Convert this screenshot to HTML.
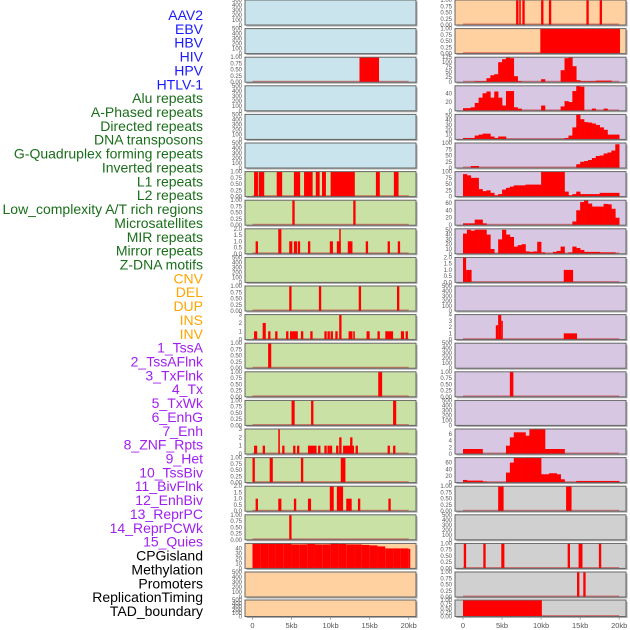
<!DOCTYPE html>
<html><head><meta charset="utf-8"><style>
html,body{margin:0;padding:0;background:#fff;}
svg{display:block;font-family:"Liberation Sans",sans-serif;}
</style></head><body>
<svg id="chart" width="630" height="630" viewBox="0 0 630 630" xmlns="http://www.w3.org/2000/svg"></svg>
<script>
const labels=["AAV2","EBV","HBV","HIV","HPV","HTLV-1","Alu repeats","A-Phased repeats","Directed repeats","DNA transposons","G-Quadruplex forming repeats","Inverted repeats","L1 repeats","L2 repeats","Low_complexity A/T rich regions","Microsatellites","MIR repeats","Mirror repeats","Z-DNA motifs","CNV","DEL","DUP","INS","INV","1_TssA","2_TssAFlnk","3_TxFlnk","4_Tx","5_TxWk","6_EnhG","7_Enh","8_ZNF_Rpts","9_Het","10_TssBiv","11_BivFlnk","12_EnhBiv","13_ReprPC","14_ReprPCWk","15_Quies","CPGisland","Methylation","Promoters","ReplicationTiming","TAD_boundary"];
const labelGroups=[6,13,5,15,5];
const groupColors=["#1a1aff","#1a6e1a","#ffa500","#a020f0","#000000"];
const xTicks=[0,5,10,15,20];
const xTickLabels=["0","5kb","10kb","15kb","20kb"];
// left column: backgrounds, tick types, segment data [start kb, end kb, value]
const leftBg=["b","b","b","b","b","b","g","g","g","g","g","g","g","g","g","g","g","g","g","o","o","o"];
const leftTicks=["e","e","p","e","e","e","p","p","t2","e","p","t3","p","p","p","t3","p","t2","p","c40","e","e"];
const leftSeg=[
[],[],[[13.7,16.2,1]],[],[],[],
[[0.2,0.7,1],[0.8,1.5,1],[3.1,3.8,1],[5.3,6.1,1],[6.6,7.7,1],[8.1,8.6,1],[8.9,9.4,1],[10.0,13.1,1],[15.8,16.3,1],[18.1,18.7,1]],
[[5.1,5.4,1],[12.9,13.2,1]],
[[0.4,0.7,1],[3.3,3.7,2],[4.7,5.1,1],[5.3,5.7,1],[5.8,6.1,1],[7.1,7.4,1],[9.9,10.3,1],[10.8,11.3,1],[11.1,11.3,2],[12.2,12.8,1],[14.5,14.8,1],[17.3,17.6,1],[18.6,18.9,1]],
[],
[[4.7,5.0,1],[8.5,8.8,1],[13.6,13.9,1],[18.5,18.8,1]],
[[0.2,0.6,1],[1.3,1.7,2],[2.0,2.3,1],[2.9,3.2,1],[4.3,4.6,1],[4.8,5.8,1],[6.2,6.5,1],[7.4,7.7,1],[9.2,9.5,1],[9.6,9.9,1],[10.0,10.3,1],[10.6,10.9,1],[11.1,11.4,3],[12.3,12.8,1],[12.9,13.1,1],[14.6,15.0,1],[16.0,16.3,1],[17.0,18.0,1],[19.0,19.4,1],[19.6,19.9,1]],
[[2.0,2.4,1]],
[[16.1,16.6,1]],
[[5.0,5.4,1],[7.5,7.8,1],[18.0,18.4,1]],
[[0.2,0.6,1],[1.3,1.6,1],[3.3,3.5,3],[3.8,4.1,1],[5.2,5.5,1],[5.7,6.0,1],[7.1,8.2,1],[8.4,8.7,1],[9.2,9.5,1],[9.6,9.9,1],[9.9,10.2,1],[10.7,11.0,1],[11.1,11.4,2],[11.6,13.0,1],[12.5,12.8,2],[13.2,13.5,1],[17.3,17.6,1],[18.0,18.3,1]],
[[0.0,0.3,1],[2.2,2.6,1],[6.2,6.5,1],[11.3,11.9,1]],
[[0.4,0.7,1],[3.3,3.7,1],[5.3,5.6,1],[7.1,7.5,1],[9.9,10.4,2],[10.8,11.6,2],[12.0,12.7,1],[13.5,13.8,1],[17.4,17.7,1]],
[[4.7,5.0,1]],
[[0,1,50],[1,2,50],[2,3,50],[3,4,50],[4,5,50],[5,6,48],[6,7,48],[7,8,49],[8,9,48],[9,10,48],[10,11,50],[11,12,49],[12,13,48],[13,14,48],[14,15,47],[15,16,46],[16,17,44],[17,18,40],[18,19,40],[19,20,40],[20,20.2,39]],
[],[]
];
// right column: backgrounds, tick types, segments, histograms (0.5kb bins from 0)
const rightBg=["o","o","u","u","u","u","u","u","u","u","u","u","u","u","u","u","u","r","r","r","r","r"];
const rightTicks=["p","p","h125","h57","h50","h100","h100","h67","h50","t2","e","t4","e","p","e","h7","h75","p","e","p","p","p"];
const rightSeg=[
[[6.8,7.1,1],[7.2,7.4,1],[7.6,7.9,1],[10.0,10.3,1],[11.0,11.3,1],[15.8,16.1,1],[17.5,17.8,1]],
[[9.9,20.1,1]],
[],[],[],[],[],[],[],
[[0,0.4,2],[0.4,1.1,1],[12.9,14.1,1]],
[],
[[4.2,4.5,2.3],[4.5,4.9,4],[4.9,5.1,3],[12.9,14.6,1]],
[],
[[6.0,6.45,1]],
[],[],[],
[[4.5,5.2,1],[13.2,13.9,1]],
[],
[[0.1,0.4,1],[2.6,2.9,1],[4.9,5.3,1],[13.4,13.7,1],[14.8,15.3,1],[17.4,17.7,1]],
[[14.6,14.9,1],[15.4,15.7,1]],
[[0,10.1,1]]
];
const hist2=[0,0,0,5,5,5,20,35,40,100,115,125,120,30,5,0,0,0,0,0,15,0,0,0,0,60,120,125,80,10,5,5,5,5,8,8,8,8,0,0];
const hist3=[6,6,8,18,30,40,44,30,44,30,12,45,45,8,5,0,0,0,0,0,12,0,0,0,0,10,22,20,45,60,55,0,0,5,0,0,5,0,0,0];
const hist4=[3,3,3,8,10,12,12,6,3,6,6,0,0,0,0,0,0,0,0,0,0,0,0,0,0,0,3,8,25,52,42,36,35,33,30,25,20,10,10,10];
const hist5=[0,0,8,8,0,0,0,0,0,0,0,0,0,0,0,0,0,0,0,0,0,0,0,0,0,0,0,0,0,15,25,28,32,40,48,50,58,62,70,95];
const hist6=[90,85,75,75,30,22,25,15,5,10,28,35,40,45,45,45,48,48,48,48,100,100,100,100,100,100,20,5,10,20,10,10,10,10,10,15,15,15,15,15];
const hist7=[5,5,5,15,15,5,0,0,0,0,0,0,0,0,0,0,0,0,0,0,0,0,0,0,0,0,0,0,10,40,62,67,58,50,50,50,57,56,44,20];
const hist8=[42,50,48,50,50,50,40,10,0,30,50,40,35,15,18,20,5,4,5,25,3,0,0,4,6,15,0,3,15,12,8,4,4,4,4,3,3,3,3,0];
const hist15=[1.5,1.5,1.5,1.5,1.5,0,0,0,0,0,0,2.5,5,6.5,6.5,6.5,5.5,7.5,7.5,7.5,7.5,1.5,1.5,1.5,1.5,1.5,0,0,0,0,0,0,0,0,0,0,0,0,0,0];
const hist16=[8,6,6,6,6,3,0,0,0,0,0,30,60,75,75,75,75,75,75,75,25,25,28,28,25,10,0,0,0,5,5,5,5,5,5,5,5,5,5,5];
const rightHist={2:hist2,3:hist3,4:hist4,5:hist5,6:hist6,7:hist7,8:hist8,15:hist15,16:hist16};

const NS="http://www.w3.org/2000/svg";
const svg=document.getElementById("chart");
const bgColors={b:"#c9e4ec",g:"#c9e1a5",o:"#ffd0a0",u:"#d7c7e3",r:"#d0d0d0"};
function el(tag,attrs,parent){const e=document.createElementNS(NS,tag);for(const k in attrs)e.setAttribute(k,attrs[k]);(parent||svg).appendChild(e);return e;}
function rowTop(i){return i<21?i*28.6:600;}
function rowH(i){return i<21?25:16.5;}
function tickSpec(t){
  if(t==="e")return{max:500,vals:[0,100,200,300,400,500],fmt:v=>String(v)};
  if(t==="p")return{max:1,vals:[0,0.25,0.5,0.75,1],fmt:v=>v.toFixed(2)};
  if(t==="t2")return{max:2,vals:[0,0.5,1,1.5,2],fmt:v=>v.toFixed(1)};
  if(t==="t3")return{max:3,vals:[0,1,2,3],fmt:v=>String(v)};
  if(t==="t4")return{max:4,vals:[0,1,2,3,4],fmt:v=>String(v)};
  if(t==="c40")return{max:50,vals:[0,10,20,30,40],fmt:v=>String(v)};
  if(t==="h125")return{max:125,vals:[0,25,50,75,100,125],fmt:v=>String(v)};
  if(t==="h57")return{max:57,vals:[0,20,40],fmt:v=>String(v)};
  if(t==="h50")return{max:52,vals:[0,10,20,30,40,50],fmt:v=>String(v)};
  if(t==="h100")return{max:100,vals:[0,25,50,75,100],fmt:v=>String(v)};
  if(t==="h67")return{max:67,vals:[0,20,40,60],fmt:v=>String(v)};
  if(t==="h7")return{max:7.5,vals:[0,2,4,6],fmt:v=>String(v)};
  if(t==="h75")return{max:75,vals:[0,20,40,60],fmt:v=>String(v)};
}
function drawPanel(col,i,bg,tick,segs,hist){
  const x0=col===0?245:455, w=171, zero=col===0?252.5:463, k=7.81;
  const xs=v=>zero+v*k;
  const top=rowTop(i), h=rowH(i), bot=top+h;
  const g=el("g",{});
  
  
  el("rect",{x:x0+1.5,y:top+1.5,width:w,height:h,fill:"#aaa"},g);
  el("rect",{x:x0,y:top,width:w,height:h,fill:bgColors[bg]},g);
  const sp=tickSpec(tick);
  const ys=v=>bot-v/sp.max*h;
  sp.vals.forEach(v=>{
    const t=el("text",{x:x0-3,y:ys(v)+2,"font-size":"6","text-anchor":"end",fill:"#555"},g);
    t.textContent=sp.fmt(v);
  });
  const hasData=segs.length>0||hist;
  if(hasData) el("line",{x1:xs(0),x2:xs(20),y1:bot-0.7,y2:bot-0.7,stroke:"rgba(210,40,40,0.55)","stroke-width":"1.5"},g);
  segs.forEach(s=>{
    const r=el("rect",{x:xs(s[0]),y:ys(Math.min(s[2],sp.max)),width:Math.max(xs(s[1])-xs(s[0]),1.5),height:bot-ys(Math.min(s[2],sp.max)),fill:"#ff0000"},g);
    
    
  });
  if(hist){
    hist.forEach((v,j)=>{
      if(v<=0)return;
      const vv=Math.min(v,sp.max);
      const r=el("rect",{x:xs(j*0.5),y:ys(vv),width:xs((j+1)*0.5)-xs(j*0.5)+0.3,height:bot-ys(vv),fill:"#ff0000"},g);
      
      
    });
  }
  el("rect",{x:x0,y:top,width:w,height:h,fill:"none",stroke:"#666","stroke-width":"1"},g);
  if(i===21){
    xTicks.forEach((v,j)=>{
      el("line",{x1:xs(v),x2:xs(v),y1:bot+1,y2:bot+3,stroke:"#888","stroke-width":"0.8"},g);
      const t=el("text",{x:xs(v),y:628,"font-size":"7.5","text-anchor":"middle",fill:"#555"},g);
      
      
      t.textContent=xTickLabels[j];
    });
  }
}
for(let i=0;i<22;i++){
  drawPanel(0,i,leftBg[i],leftTicks[i],leftSeg[i],null);
  drawPanel(1,i,rightBg[i],rightTicks[i],rightSeg[i],rightHist[i]||null);
}
let idx=0;
labelGroups.forEach((n,gi)=>{
  for(let j=0;j<n;j++){
    const t=el("text",{x:203,y:15+idx*13.86+5,"font-size":"14","text-anchor":"end",fill:groupColors[gi]});
    
    
    t.textContent=labels[idx];
    idx++;
  }
});
</script>
</body></html>
